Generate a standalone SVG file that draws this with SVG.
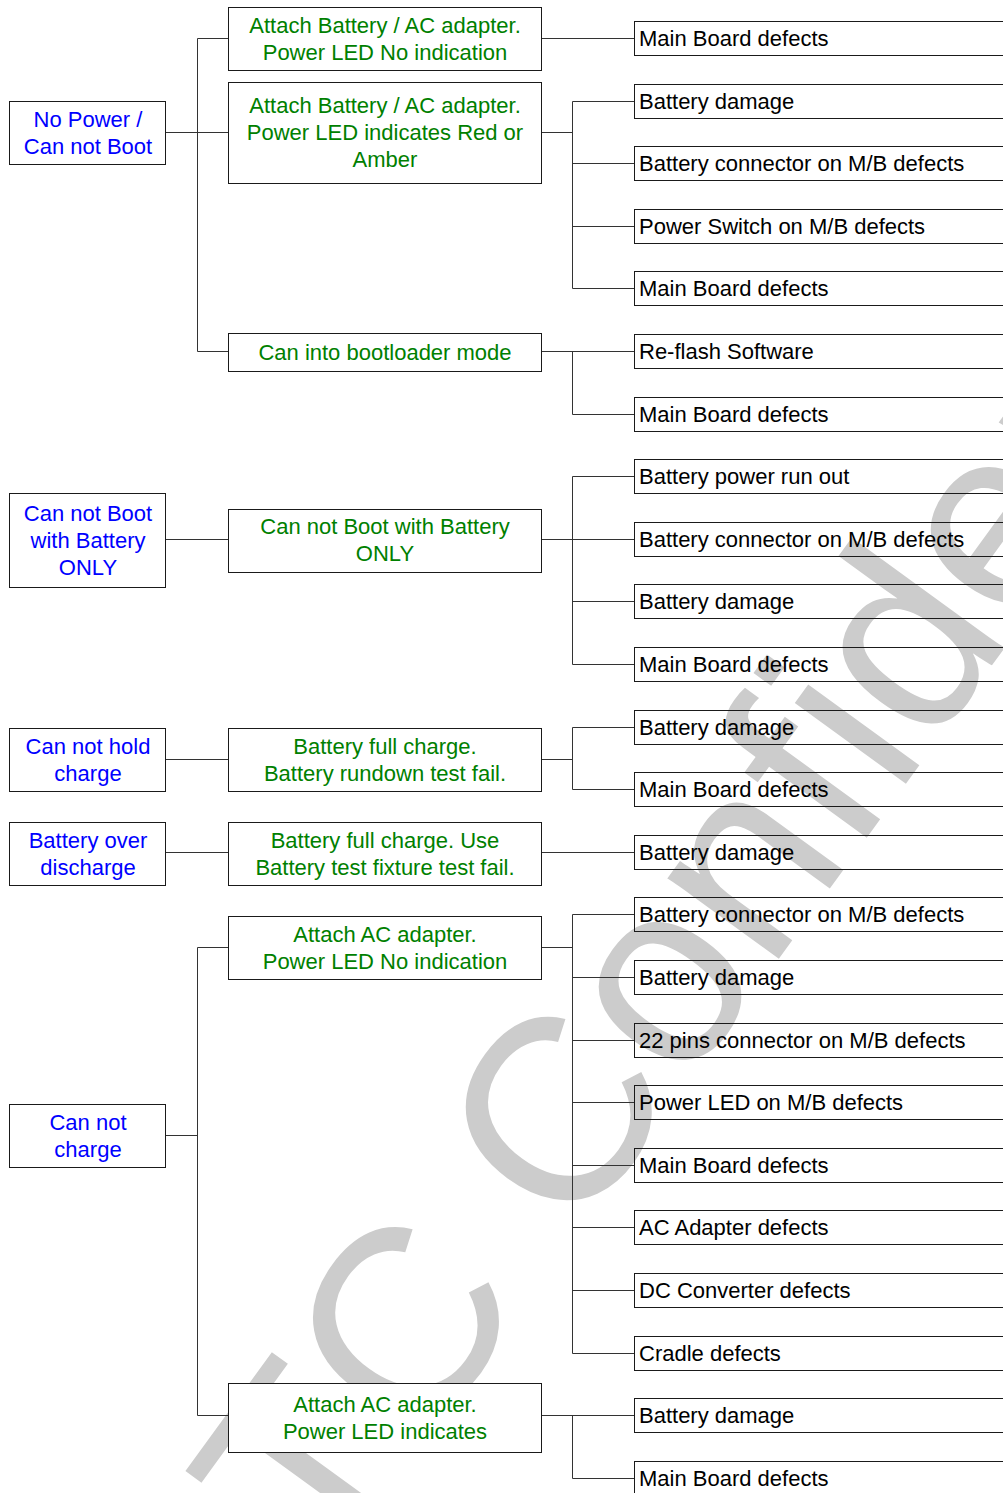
<svg xmlns="http://www.w3.org/2000/svg" width="1003" height="1493" viewBox="0 0 1003 1493">
<style>
.wm{font-family:"Liberation Sans",Arial,sans-serif;font-size:260px;fill:#cccccc}
.box{fill:#ffffff;stroke:#1a1a1a;stroke-width:1}
.rbox{fill:none;stroke:#1a1a1a;stroke-width:1}
.t{font-family:"Liberation Sans",Arial,sans-serif;font-size:22px}
.blue{fill:#0000ff;text-anchor:middle}
.green{fill:#008000;text-anchor:middle}
.blk{fill:#000000}
.conn{stroke:#333333;stroke-width:1;fill:none}
</style>
<rect width="1003" height="1493" fill="#ffffff"/>
<g id="watermark">
<text class="wm" transform="translate(573,1242) rotate(-54)" x="-419" y="0">TC Confidential</text>
</g>
<g id="connectors" class="conn">
<path d="M165.5 132.5H228.5M197.5 38.5V351.5M197.5 38.5H228.5M197.5 351.5H228.5"/>
<path d="M541.5 38.5H634.5"/>
<path d="M541.5 132.5H572.5M572.5 101.5V288.5M572.5 101.5H634.5M572.5 163.5H634.5M572.5 226.5H634.5M572.5 288.5H634.5"/>
<path d="M541.5 351.5H634.5M572.5 351.5V414.5H634.5"/>
<path d="M165.5 539.5H228.5M541.5 539.5H634.5M572.5 476.5V664.5M572.5 476.5H634.5M572.5 601.5H634.5M572.5 664.5H634.5"/>
<path d="M165.5 759.5H228.5M541.5 759.5H572.5M572.5 727.5V789.5M572.5 727.5H634.5M572.5 789.5H634.5"/>
<path d="M165.5 852.5H228.5M541.5 852.5H634.5"/>
<path d="M165.5 1135.5H197.5M197.5 947.5V1415.5M197.5 947.5H228.5M197.5 1415.5H228.5"/>
<path d="M541.5 947.5H572.5M572.5 914.5V1353.5M572.5 914.5H634.5M572.5 977.5H634.5M572.5 1040.5H634.5M572.5 1102.5H634.5M572.5 1165.5H634.5M572.5 1227.5H634.5M572.5 1290.5H634.5M572.5 1353.5H634.5"/>
<path d="M541.5 1415.5H634.5M572.5 1415.5V1478.5H634.5"/>
</g>
<g id="L1"><rect class="box" x="9.5" y="101.5" width="156" height="63"/><text class="t blue"><tspan x="88" y="127">No Power /</tspan><tspan x="88" y="154">Can not Boot</tspan></text></g>
<g id="L2"><rect class="box" x="9.5" y="493.5" width="156" height="94"/><text class="t blue"><tspan x="88" y="521">Can not Boot</tspan><tspan x="88" y="548">with Battery</tspan><tspan x="88" y="575">ONLY</tspan></text></g>
<g id="L3"><rect class="box" x="9.5" y="728.5" width="156" height="63"/><text class="t blue"><tspan x="88" y="754">Can not hold</tspan><tspan x="88" y="781">charge</tspan></text></g>
<g id="L4"><rect class="box" x="9.5" y="822.5" width="156" height="63"/><text class="t blue"><tspan x="88" y="848">Battery over</tspan><tspan x="88" y="875">discharge</tspan></text></g>
<g id="L5"><rect class="box" x="9.5" y="1104.5" width="156" height="63"/><text class="t blue"><tspan x="88" y="1130">Can not</tspan><tspan x="88" y="1157">charge</tspan></text></g>
<g id="M1"><rect class="box" x="228.5" y="7.5" width="313" height="63"/><text class="t green"><tspan x="385" y="33">Attach Battery / AC adapter.</tspan><tspan x="385" y="60">Power LED No indication</tspan></text></g>
<g id="M2"><rect class="box" x="228.5" y="82.5" width="313" height="101"/><text class="t green"><tspan x="385" y="113">Attach Battery / AC adapter.</tspan><tspan x="385" y="140">Power LED indicates Red or</tspan><tspan x="385" y="167">Amber</tspan></text></g>
<g id="M3"><rect class="box" x="228.5" y="333.5" width="313" height="38"/><text class="t green" x="385" y="360">Can into bootloader mode</text></g>
<g id="M4"><rect class="box" x="228.5" y="509.5" width="313" height="63"/><text class="t green"><tspan x="385" y="534">Can not Boot with Battery</tspan><tspan x="385" y="561">ONLY</tspan></text></g>
<g id="M5"><rect class="box" x="228.5" y="728.5" width="313" height="63"/><text class="t green"><tspan x="385" y="754">Battery full charge.</tspan><tspan x="385" y="781">Battery rundown test fail.</tspan></text></g>
<g id="M6"><rect class="box" x="228.5" y="822.5" width="313" height="63"/><text class="t green"><tspan x="385" y="848">Battery full charge. Use</tspan><tspan x="385" y="875">Battery test fixture test fail.</tspan></text></g>
<g id="M7"><rect class="box" x="228.5" y="916.5" width="313" height="63"/><text class="t green"><tspan x="385" y="942">Attach AC adapter.</tspan><tspan x="385" y="969">Power LED No indication</tspan></text></g>
<g id="M8"><rect class="box" x="228.5" y="1383.5" width="313" height="69"/><text class="t green"><tspan x="385" y="1412">Attach AC adapter.</tspan><tspan x="385" y="1439">Power LED indicates</tspan></text></g>
<g id="R0"><rect class="rbox" x="634.5" y="21.5" width="420" height="34"/><text class="t blk" x="639" y="46">Main Board defects</text></g>
<g id="R1"><rect class="rbox" x="634.5" y="84.5" width="420" height="34"/><text class="t blk" x="639" y="109">Battery damage</text></g>
<g id="R2"><rect class="rbox" x="634.5" y="146.5" width="420" height="34"/><text class="t blk" x="639" y="171">Battery connector on M/B defects</text></g>
<g id="R3"><rect class="rbox" x="634.5" y="209.5" width="420" height="34"/><text class="t blk" x="639" y="234">Power Switch on M/B defects</text></g>
<g id="R4"><rect class="rbox" x="634.5" y="271.5" width="420" height="34"/><text class="t blk" x="639" y="296">Main Board defects</text></g>
<g id="R5"><rect class="rbox" x="634.5" y="334.5" width="420" height="34"/><text class="t blk" x="639" y="359">Re-flash Software</text></g>
<g id="R6"><rect class="rbox" x="634.5" y="397.5" width="420" height="34"/><text class="t blk" x="639" y="422">Main Board defects</text></g>
<g id="R7"><rect class="rbox" x="634.5" y="459.5" width="420" height="34"/><text class="t blk" x="639" y="484">Battery power run out</text></g>
<g id="R8"><rect class="rbox" x="634.5" y="522.5" width="420" height="34"/><text class="t blk" x="639" y="547">Battery connector on M/B defects</text></g>
<g id="R9"><rect class="rbox" x="634.5" y="584.5" width="420" height="34"/><text class="t blk" x="639" y="609">Battery damage</text></g>
<g id="R10"><rect class="rbox" x="634.5" y="647.5" width="420" height="34"/><text class="t blk" x="639" y="672">Main Board defects</text></g>
<g id="R11"><rect class="rbox" x="634.5" y="710.5" width="420" height="34"/><text class="t blk" x="639" y="735">Battery damage</text></g>
<g id="R12"><rect class="rbox" x="634.5" y="772.5" width="420" height="34"/><text class="t blk" x="639" y="797">Main Board defects</text></g>
<g id="R13"><rect class="rbox" x="634.5" y="835.5" width="420" height="34"/><text class="t blk" x="639" y="860">Battery damage</text></g>
<g id="R14"><rect class="rbox" x="634.5" y="897.5" width="420" height="34"/><text class="t blk" x="639" y="922">Battery connector on M/B defects</text></g>
<g id="R15"><rect class="rbox" x="634.5" y="960.5" width="420" height="34"/><text class="t blk" x="639" y="985">Battery damage</text></g>
<g id="R16"><rect class="rbox" x="634.5" y="1023.5" width="420" height="34"/><text class="t blk" x="639" y="1048">22 pins connector on M/B defects</text></g>
<g id="R17"><rect class="rbox" x="634.5" y="1085.5" width="420" height="34"/><text class="t blk" x="639" y="1110">Power LED on M/B defects</text></g>
<g id="R18"><rect class="rbox" x="634.5" y="1148.5" width="420" height="34"/><text class="t blk" x="639" y="1173">Main Board defects</text></g>
<g id="R19"><rect class="rbox" x="634.5" y="1210.5" width="420" height="34"/><text class="t blk" x="639" y="1235">AC Adapter defects</text></g>
<g id="R20"><rect class="rbox" x="634.5" y="1273.5" width="420" height="34"/><text class="t blk" x="639" y="1298">DC Converter defects</text></g>
<g id="R21"><rect class="rbox" x="634.5" y="1336.5" width="420" height="34"/><text class="t blk" x="639" y="1361">Cradle defects</text></g>
<g id="R22"><rect class="rbox" x="634.5" y="1398.5" width="420" height="34"/><text class="t blk" x="639" y="1423">Battery damage</text></g>
<g id="R23"><rect class="rbox" x="634.5" y="1461.5" width="420" height="34"/><text class="t blk" x="639" y="1486">Main Board defects</text></g>
</svg>
